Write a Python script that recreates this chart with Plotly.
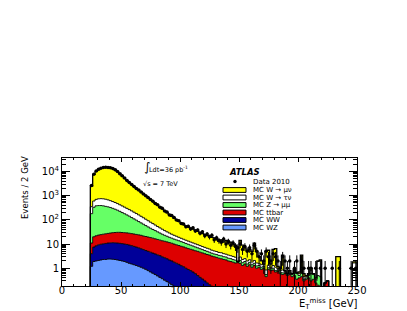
import numpy as np
import plotly.graph_objects as go

# ---------------- data (events per 2 GeV bin, bins 24..250 GeV) ----------------
BIN_LO = 24
BIN_W = 2
N_BINS = 113

WZ = [1.2, 1.9, 2.0, 2.1, 2.2, 2.3, 2.3, 2.4, 2.4, 2.35,
      2.3, 2.2, 2.1, 2.0, 1.9, 1.75, 1.6, 1.5, 1.4, 1.3,
      1.2, 1.1, 1.0, 0.9, 0.8, 0.7, 0.62, 0.55, 0.48, 0.42,
      0.37, 0.32, 0.28, 0.24, 0.21, 0.18, 0.16, 0.15, 0.13, 0.11,
      0.1, 0.09, 0.08, 0.07, 0.06, 0.05, 0.05, 0.04, 0.04, 0.03,
      0.03, 0.03, 0.02, 0.02, 0.02, 0.01, 0.01, 0.01, 0.01, 0.01,
      0, 0, 0, 0, 0, 0, 0, 0, 0, 0,
      0, 0, 0, 0, 0, 0, 0, 0, 0, 0,
      0, 0, 0, 0, 0, 0, 0, 0, 0, 0,
      0, 0, 0, 0, 0, 0, 0, 0, 0, 0,
      0, 0, 0, 0, 0, 0, 0, 0, 0, 0,
      0, 0, 0]

WW = [2.8, 5.6, 6.5, 7.2, 7.6, 7.9, 8.3, 8.6, 8.8, 9.0,
      8.9, 8.8, 8.6, 8.4, 8.1, 7.9, 7.5, 7.1, 6.6, 6.2,
      5.8, 5.3, 4.9, 4.5, 4.2, 3.9, 3.6, 3.35, 3.1, 2.9,
      2.6, 2.4, 2.2, 1.95, 1.8, 1.6, 1.45, 1.3, 1.15, 1.05,
      0.9, 0.8, 0.72, 0.63, 0.54, 0.45, 0.37, 0.32, 0.26, 0.22,
      0.18, 0.15, 0.12, 0.1, 0.08, 0.07, 0.05, 0.05, 0.04, 0.04,
      0.03, 0, 0, 0, 0, 0, 0, 0, 0, 0,
      0, 0, 0, 0, 0, 0, 0, 0, 0, 0,
      0, 0, 0, 0, 0, 0, 0, 0, 0, 0,
      0, 0, 0, 0, 0, 0, 0, 0, 0, 0,
      0, 0, 0, 0, 0, 0, 0, 0, 0, 0,
      0, 0, 0]

TTBAR = [7.0, 12.5, 13.5, 14.2, 14.7, 15.3, 15.9, 16.5, 17.3, 18.1,
         18.8, 19.5, 19.8, 19.6, 19.5, 19.3, 18.9, 18.4, 18.0, 17.5,
         17.0, 16.6, 15.6, 15.1, 14.5, 13.9, 13.3, 12.6, 11.9, 11.2,
         10.7, 10.3, 9.8, 9.3, 8.8, 8.2, 7.7, 7.25, 6.8, 6.45,
         6.0, 5.6, 5.3, 5.0, 4.7, 4.5, 4.2, 3.95, 3.7, 3.45,
         3.3, 3.0, 2.85, 2.7, 2.5, 2.4, 2.25, 2.15, 1.95, 1.85,
         1.75, 1.65, 1.7, 1.6, 1.3, 1.5, 1.2, 1.4, 1.1, 1.3,
         1.0, 1.1, 0.9, 1.0, 0.45, 0.9, 0.8, 0.85, 0.7, 0.75,
         0.6, 0.55, 0.6, 0.5, 0.55, 0.45, 0.5, 0.35, 0.4, 0.45,
         0.3, 0.35, 0.4, 0.3, 0.35, 0.25, 0.2, 0.15, 0.1, 0.25,
         0.3, 0.1, 0.08, 0.1, 0.15, 0.1, 0.05, 0.05, 0.05, 0.05,
         0.05, 0.05, 0.05]

ZMUMU = [169, 310, 358, 366, 365, 354, 334, 317, 296, 270,
         245, 220, 194, 170, 150, 131, 114, 98, 84, 72,
         61, 52, 44.5, 37.5, 31.5, 26.5, 22.5, 19.5, 16.5, 14,
         11.8, 10, 8.7, 7.5, 6.7, 6, 5.5, 5, 4.5, 4,
         3.6, 3.3, 2.9, 2.6, 2.3, 2.0, 1.8, 1.6, 1.4, 1.3,
         1.1, 1.0, 0.9, 0.9, 0.8, 0.8, 0.7, 0.7, 0.6, 0.6,
         0.5, 0.5, 0.1, 0.5, 0.4, 0.4, 0.3, 0.35, 0.3, 0.3,
         0.25, 0.2, 0.2, 0.2, 0.1, 0.15, 0.15, 0.15, 0.1, 0.1,
         0.1, 0.1, 0.05, 0.05, 0.05, 0.1, 0.3, 0.25, 0.1, 0.4,
         0.05, 0.05, 0.1, 0.3, 0.2, 0.05, 0.3, 0.3, 0, 0,
         0, 0, 0, 0, 0, 0, 0, 0, 0, 0,
         0, 0, 0]

WTAUNU = [170, 270, 320, 350, 360, 360, 350, 325, 295, 270,
          245, 220, 195, 175, 155, 138, 123, 110, 97, 85,
          75, 65, 56, 48, 41, 35, 30, 25, 21, 18,
          15.5, 13, 11, 9.5, 8, 7, 6.2, 5.3, 4.7, 4.2,
          3.8, 3.4, 3.1, 2.8, 2.6, 2.4, 2.2, 2.0, 1.9, 1.7,
          1.6, 1.4, 1.3, 1.2, 1.1, 1.1, 1.0, 0.9, 0.9, 0.8,
          0.8, 0.7, 0.05, 0.8, 0.6, 0.6, 0.5, 0.5, 0.4, 0.5,
          0.4, 0.3, 0.3, 0.2, 0.3, 0.3, 0.1, 0.3, 0.3, 0.1,
          0.1, 0.2, 0.1, 0.05, 0.1, 0.05, 0.1, 0.05, 0.1, 0.2,
          0.1, 0.05, 0.05, 0.2, 0.05, 0.05, 1.4, 1.6, 0, 0,
          0, 0, 0, 0, 0, 0, 0, 0, 0, 0,
          0, 1.6, 1.6]

WMUNU = [2150, 6900, 9300, 11260, 12750, 13760, 14290, 14330, 13880, 12930,
         11480, 9530, 7780, 6225, 4965, 4002, 3235, 2665, 2193, 1818,
         1540, 1280, 1058, 874, 728, 610, 510, 424, 352, 293,
         244, 204, 168, 140, 115, 95, 79, 67, 57, 48,
         42, 37, 33, 30, 27, 24, 21, 19, 18, 16,
         15, 13.4, 12.8, 11.1, 8.5, 10.6, 8.0, 10.2, 7.5, 8.7,
         6.9, 6.1, 0.1, 11.1, 6.7, 4.5, 3.5, 3.8, 3.2, 8.9,
         3.4, 1.4, 0.6, 0.1, 4.2, 4.2, 0.45, 4.7, 5.4, 0.25,
         0.2, 2.6, 0.05, 0.02, 0.1, 0, 0, 0, 0.1, 2.45,
         0.15, 0.05, 0.05, 0.2, 0, 0.05, 0.1, 0.15, 0, 0,
         0, 0, 0, 0, 2.85, 2.9, 0, 0, 0, 0,
         0, 0.2, 0.2]

DATA = [2600, 7700, 10400, 12200, 13600, 14500, 14800, 14700, 14200, 13200,
        11800, 9900, 8100, 6600, 5300, 4250, 3480, 2860, 2380, 1990,
        1690, 1400, 1170, 990, 830, 700, 590, 470, 420, 330,
        300, 230, 210, 160, 150, 125, 98, 92, 70, 68,
        52, 55, 42, 47, 35, 38, 28, 32, 22, 26,
        20, 23, 15, 18, 14, 12, 16, 10, 13, 9,
        11, 8, 7, 10, 6, 8, 5, 7, 4, 9,
        5, 3, 4, 2, 5, 3, 2, 4, 3, 2,
        1, 3, 2, 1, 2, 0, 1, 2, 0, 2,
        1, 0, 1, 1, 0, 1, 0, 1, 0, 1,
        0, 0, 1, 0, 0, 1, 0, 0, 0, 0,
        1, 0, 1]

X_TICKS = [0, 50, 100, 150, 200, 250]
Y_TICKS = [1, 10, 100, 1000, 10000]
Y_TICK_LABELS = ["1", "10", "10<sup>2</sup>", "10<sup>3</sup>", "10<sup>4</sup>"]

LEGEND = [("MC W \u2192 \u03bc\u03bd", "#ffff00"),
          ("MC W \u2192 \u03c4\u03bd", "#ffffff"),
          ("MC Z \u2192 \u03bc\u03bc", "#66ff66"),
          ("MC ttbar", "#dd0000"),
          ("MC WW", "#000099"),
          ("MC WZ", "#6699ff")]

# ---------------- geometry ----------------
# the page body adds an 8 px margin; positions below are in window pixels
OFF = 8
W, H = 407, 311
L_PX, R_PX, T_PX, B_PX = 62, 357, 158, 286   # plot frame in window pixels
ML = L_PX - OFF
MT = T_PX - OFF
PW = R_PX - L_PX
PH = B_PX - T_PX
MR = W - ML - PW
MB = H - MT - PH
YMIN_LOG, YMAX_LOG = -0.733, 4.555
FONT = "DejaVu Sans"


def xp(px):
    return (px - L_PX) / PW


def yp(py):
    return (B_PX - py) / PH


for arr in (WZ, WW, TTBAR, ZMUMU, WTAUNU, WMUNU, DATA):
    assert len(arr) == N_BINS

edges = BIN_LO + BIN_W * np.arange(N_BINS + 1)
centers = edges[:-1] + BIN_W / 2
FLOOR = 1e-3

components = [np.array(a, float) for a in (WZ, WW, TTBAR, ZMUMU, WTAUNU, WMUNU)]
colors = ["#6699ff", "#000099", "#dd0000", "#66ff66", "#ffffff", "#ffff00"]
cum = np.cumsum(np.vstack(components), axis=0)

xs = np.concatenate([[edges[0]], edges[:-1], [edges[-1], edges[-1]]])


def ystep(v):
    v = np.maximum(v, FLOOR)
    return np.concatenate([[FLOOR], v, [v[-1], FLOOR]])


fig = go.Figure()
fig.add_trace(go.Scatter(x=xs, y=np.full(len(xs), FLOOR), mode="lines",
                         line=dict(width=0, shape="hv"), hoverinfo="skip"))
for k in range(len(components)):
    fig.add_trace(go.Scatter(
        x=xs, y=ystep(cum[k]), mode="lines", fill="tonexty",
        fillcolor=colors[k],
        line=dict(color="black", width=1.3 if k == len(components) - 1 else 0.9, shape="hv"),
        hoverinfo="skip"))

data = np.array(DATA, float)
m = data > 0
d = data[m]
err = np.sqrt(d)
ymin_val = 10 ** YMIN_LOG
lower = np.maximum(d - err, ymin_val * 1.01)
fig.add_trace(go.Scatter(
    x=centers[m], y=d, mode="markers",
    marker=dict(color="black", size=3.5),
    error_y=dict(type="data", array=err, arrayminus=d - lower, symmetric=False,
                 color="black", thickness=1, width=0),
    error_x=dict(type="constant", value=BIN_W / 2, color="black", thickness=1, width=0),
    hoverinfo="skip"))

fig.update_xaxes(range=[0, 250], showline=True, linecolor="black", linewidth=1,
                 mirror="ticks", ticks="inside", ticklen=4, tickwidth=1, tickcolor="black",
                 tickvals=X_TICKS, showgrid=False, zeroline=False, ticklabelstandoff=-5,
                 tickfont=dict(family=FONT, size=10, color="black"),
                 minor=dict(ticks="inside", ticklen=2, tickcolor="black", dtick=10, showgrid=False))
fig.update_yaxes(type="log", range=[YMIN_LOG, YMAX_LOG], showline=True, linecolor="black",
                 linewidth=1, mirror="ticks", ticks="inside", ticklen=8, tickwidth=1,
                 tickcolor="black", tickvals=Y_TICKS, ticktext=Y_TICK_LABELS,
                 showgrid=False, zeroline=False,
                 tickfont=dict(family=FONT, size=10, color="black"),
                 minor=dict(ticks="inside", ticklen=4, tickcolor="black", dtick="D1", showgrid=False))

ann = []
ann.append(dict(x=xp(18), y=yp(188), text="Events / 2 GeV", textangle=-90,
                font=dict(family=FONT, size=8.5, color="black")))
ann.append(dict(x=xp(358), y=yp(304), text="E<sub>T</sub><sup>miss</sup> [GeV]", xanchor="right",
                borderpad=0, font=dict(family=FONT, size=10, color="black")))
ann.append(dict(x=xp(142.5), y=yp(166.5), text="\u222b", borderpad=0,
                font=dict(family=FONT, size=12, color="black")))
ann.append(dict(x=xp(148), y=yp(169.5), text="Ldt=36 pb<sup>-1</sup>", xanchor="left",
                borderpad=0, font=dict(family=FONT, size=6.5, color="black")))
ann.append(dict(x=xp(141), y=yp(183.5), text="\u221as = 7 TeV", xanchor="left",
                font=dict(family=FONT, size=6.5, color="black")))
ann.append(dict(x=xp(227), y=yp(172), text="<b><i>ATLAS</i></b>", xanchor="left",
                font=dict(family=FONT, size=8.5, color="black")))
ann.append(dict(x=xp(251), y=yp(181.5), text="Data 2010", xanchor="left",
                font=dict(family=FONT, size=7, color="black")))

shapes = []
shapes.append(dict(type="circle", xref="paper", yref="paper",
                   x0=xp(233.3), x1=xp(236.7), y0=yp(183.2), y1=yp(179.8),
                   fillcolor="black", line=dict(color="black", width=0)))
row_y = [190, 197.5, 205, 212.5, 220, 227.5]
for (label, col), ry in zip(LEGEND, row_y):
    shapes.append(dict(type="rect", xref="paper", yref="paper",
                       x0=xp(223), x1=xp(246), y0=yp(ry + 2.4), y1=yp(ry - 2.4),
                       fillcolor=col, line=dict(color="black", width=1)))
    ann.append(dict(x=xp(251), y=yp(ry), text=label, xanchor="left",
                    font=dict(family=FONT, size=7, color="black")))

for a in ann:
    a.setdefault("xref", "paper")
    a.setdefault("yref", "paper")
    a.setdefault("showarrow", False)
    a.setdefault("yanchor", "middle")

fig.update_layout(width=W, height=H, margin=dict(l=ML, r=MR, t=MT, b=MB, pad=0, autoexpand=False),
                  paper_bgcolor="white", plot_bgcolor="white", showlegend=False,
                  annotations=ann, shapes=shapes)

fig.write_html("out.html")
